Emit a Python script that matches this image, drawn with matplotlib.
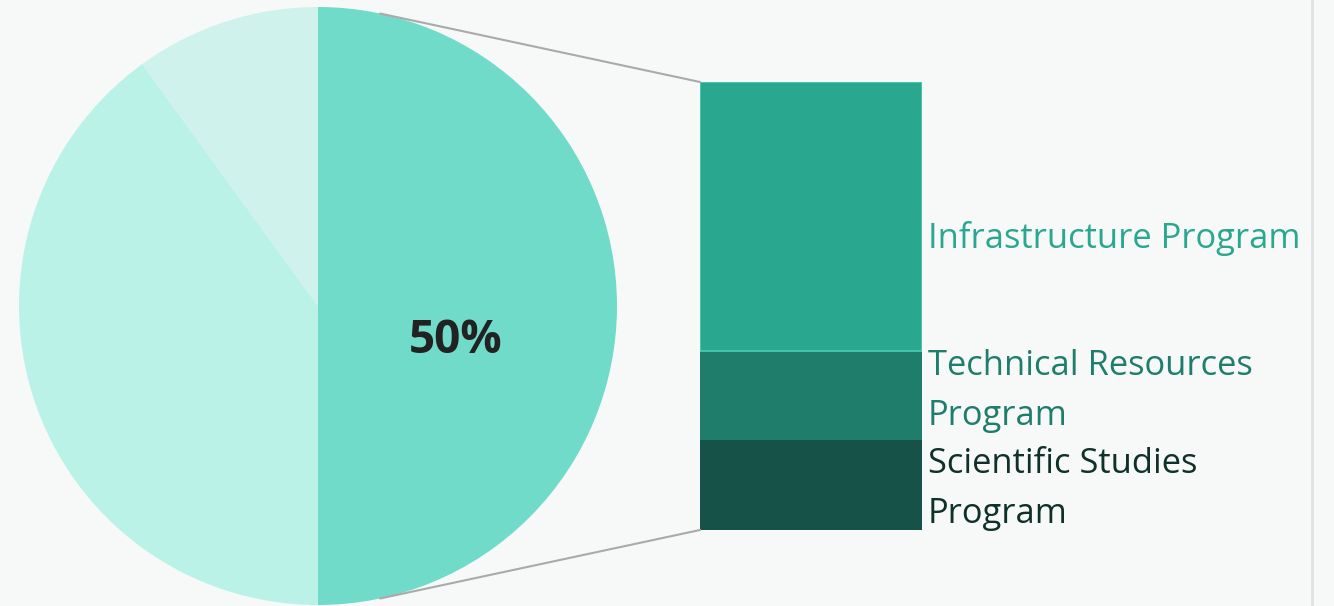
import numpy as np
import matplotlib
matplotlib.use("Agg")
import matplotlib.pyplot as plt
from matplotlib.patches import ConnectionPatch
from matplotlib.lines import Line2D

plt.rcParams['font.family'] = ['Open Sans', 'DejaVu Sans']

# pie data
pie_values = [50, 40, 10]
pie_colors = ['#70DBC9', '#BAF2E8', '#CFF2EC']
pie_label = '50%'

# breakdown of the 50% slice (bottom to top)
bar_labels = ['Scientific Studies\nProgram', 'Technical Resources\nProgram', 'Infrastructure Program']
bar_values = [0.2, 0.2, 0.6]
bar_colors = ['#175248', '#1F7D6B', '#2AA88F']
label_colors = ['#10302A', '#1F7D6B', '#2AA88F']
label_y = [489, 391, 238]  # pixel rows of label centres

W, H = 1334, 606
bg = '#F7F9F9'

fig = plt.figure(figsize=(W / 100, H / 100), dpi=100, facecolor=bg)

# pie axes
ax_pie = fig.add_axes([19 / W, 1 / H, 598 / W, 598 / H])
ax_pie.set_facecolor(bg)
wedges, _ = ax_pie.pie(pie_values, colors=pie_colors, startangle=90,
                       counterclock=False, radius=1,
                       wedgeprops=dict(linewidth=0))
ax_pie.set_xlim(-1, 1)
ax_pie.set_ylim(-1, 1)
ax_pie.axis('off')
ax_pie.text(0.46, -0.115, pie_label, ha='center', va='center',
            fontsize=33, fontweight='bold', color='#222222')

# stacked bar axes
ax_bar = fig.add_axes([700 / W, 76 / H, 222 / W, 448 / H])
bottom = 0
for v, c in zip(bar_values, bar_colors):
    ax_bar.bar(0, v, width=1, bottom=bottom, color=c, linewidth=0)
    bottom += v
ax_bar.set_xlim(-0.5, 0.5)
ax_bar.set_ylim(0, sum(bar_values))
ax_bar.axis('off')

# light outline on top segment
top_seg = ax_bar.patches[-1]
top_seg.set_edgecolor('#4FCDB3')
top_seg.set_linewidth(1.2)

for lab, col, yp in zip(bar_labels, label_colors, label_y):
    fig.text(928 / W, 1 - yp / H, lab, ha='left', va='center',
             fontsize=24.8, color=col, linespacing=1.6)

# connector lines
ang = np.deg2rad(78)
for sgn, yb in [(1, sum(bar_values)), (-1, 0)]:
    con = ConnectionPatch(xyA=(np.cos(ang), sgn * np.sin(ang)), coordsA=ax_pie.transData,
                          xyB=(-0.5, yb), coordsB=ax_bar.transData,
                          color='#AAAAAA', linewidth=1.5)
    fig.add_artist(con)

# right border line
fig.add_artist(Line2D([1312 / W, 1312 / W], [0, 1], transform=fig.transFigure,
                      color='#DDE3E2', linewidth=2))

fig.savefig('out.png', dpi=100, facecolor=bg)
